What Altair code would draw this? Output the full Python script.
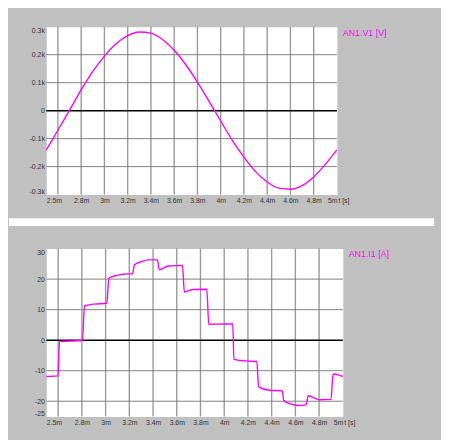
import altair as alt
import pandas as pd

# ---- data ----
t_v = [2.5, 2.6, 2.7, 2.8, 2.9, 3.0, 3.1, 3.2, 3.3, 3.4, 3.5, 3.6, 3.7,
       3.8, 3.9, 4.0, 4.1, 4.2, 4.3, 4.4, 4.5, 4.6, 4.7, 4.8, 4.9, 5.0]
v_vals = [-140, -70, 2, 74, 140, 195, 239, 268, 281, 277, 254, 216, 164,
          102, 33, -37, -106, -166, -218, -255, -277, -281, -268, -237, -192, -140]

t_i = [2.500, 2.550, 2.598, 2.612, 2.700, 2.805, 2.822, 2.900, 3.010, 3.027,
       3.080, 3.150, 3.228, 3.243, 3.300, 3.360, 3.437, 3.452, 3.530, 3.648,
       3.664, 3.740, 3.853, 3.870, 4.000, 4.072, 4.082, 4.180, 4.275, 4.290,
       4.380, 4.490, 4.502, 4.580, 4.620, 4.690, 4.708, 4.800, 4.900, 4.918, 5.000]
i_vals = [-11.9, -11.8, -11.7, -0.4, -0.3, -0.1, 11.2, 11.8, 12.1, 20.2,
          21.1, 21.6, 21.8, 24.7, 25.7, 26.3, 26.3, 23.1, 24.3, 24.5,
          15.8, 16.6, 16.7, 5.2, 5.3, 5.3, -6.3, -6.8, -7.0, -15.3,
          -16.4, -16.6, -19.8, -21.1, -21.4, -21.2, -18.2, -19.5, -19.4, -11.1, -11.9]

t_grid = [2.6, 2.8, 3.0, 3.2, 3.4, 3.6, 3.8, 4.0, 4.2, 4.4, 4.6, 4.8]
t_labels = [2.5, 2.8, 3.0, 3.2, 3.4, 3.6, 3.8, 4.0, 4.2, 4.4, 4.6, 4.8, 5.0]
v_ticks = [300, 200, 100, 0, -100, -200, -300]
v_grid = [200, 100, -100, -200]
i_ticks = [30, 20, 10, 0, -10, -20, -25]
i_grid = [20, 10, -10, -20]

MAG = "#ff00ff"
GRAY = "#c0c0c0"
FONT = "Liberation Sans"
LBL = "#333333"
TOTAL_W = 433


def make_x(W):
    return alt.X(
        "t:Q",
        scale=alt.Scale(domain=[2.5, 5.0], nice=False, zero=False),
        axis=alt.Axis(
            values=t_labels,
            labelExpr="format(datum.value, '.1~f') + 'm'",
            labelFlush=True, grid=False, ticks=False, domain=False,
            labelPadding=2, labelFontSize=7, labelColor=LBL, labelFont=FONT,
            labelOverlap=False,
            title="t [s]", titleX=W + 1, titleY=2, titleAlign="left",
            titleBaseline="top", titleFontSize=7, titleFontWeight="normal",
            titleColor=LBL, titleFont=FONT,
        ),
    )


def make_y(domain, ticks, expr):
    return alt.Y(
        "v:Q",
        scale=alt.Scale(domain=domain, nice=False, zero=False),
        axis=alt.Axis(
            values=ticks, labelExpr=expr, labelFlush=True, grid=False,
            ticks=False, domain=False, labelPadding=2, labelFontSize=7,
            labelColor=LBL, labelFont=FONT, labelOverlap=False, title=None,
        ),
    )


def box(x1, x2, y1, y2, color):
    return alt.Chart(pd.DataFrame({"k": [0]})).mark_rect(color=color).encode(
        x=alt.value(x1), x2=alt.value(x2), y=alt.value(y1), y2=alt.value(y2))


def panel(t, vals, domain, ticks, grid, expr, W, H, legend, extra):
    X = make_x(W)
    Y = make_y(domain, ticks, expr)
    vgrid = alt.Chart(pd.DataFrame({"t": t_grid})).mark_rule(
        color="#999999", strokeWidth=1.4).encode(x=X)
    hgrid = alt.Chart(pd.DataFrame({"v": grid})).mark_rule(
        color="#808080", strokeWidth=1).encode(y=Y)
    zero = alt.Chart(pd.DataFrame({"v": [0]})).mark_rule(
        color="black", strokeWidth=1.5).encode(y=Y)
    line = alt.Chart(pd.DataFrame({"t": t, "v": vals})).mark_line(
        color=MAG, strokeWidth=1.4, interpolate="monotone").encode(x=X, y=Y)
    txt = alt.Chart(pd.DataFrame({"k": [0]})).mark_text(
        color=MAG, fontSize=9, font=FONT, align="left", baseline="middle").encode(
        x=alt.value(W + 6), y=alt.value(6), text=alt.value(legend))
    return alt.layer(*extra, vgrid, hgrid, zero, line, txt).properties(width=W, height=H)


W1, H1 = 296, 171
W2, H2 = 302, 171
L1, L2 = 38, 32  # plot left offsets inside the chart

top = panel(
    t_v, v_vals, [-300, 300], v_ticks, v_grid,
    "datum.value == 0 ? '0' : (datum.value < 0 ? '-' : '') + format(abs(datum.value) / 1000, '.1~f') + 'k'",
    W1, H1, "AN1.V1 [V]",
    [box(-L1, -L1 + 1, -14, -13, GRAY),
     box(-L1, TOTAL_W - L1, H1 + 24, H1 + 32, "white")],
)
bottom = panel(
    t_i, i_vals, [-25, 30], i_ticks, i_grid,
    "(datum.value < 0 ? '-' : '') + format(abs(datum.value), 'd')",
    W2, H2, "AN1.I1 [A]",
    [box(-L2, -L2 + 1, -21, -20, GRAY),
     box(TOTAL_W - L2 - 1, TOTAL_W - L2, H2 + 23, H2 + 24, GRAY)],
)

chart = alt.concat(top, bottom, columns=1, spacing=0, align="none").properties(
    background=GRAY, padding=0
).configure_view(fill="white", stroke="transparent")

chart.save("out.html", embed_options={"renderer": "svg", "actions": False})
